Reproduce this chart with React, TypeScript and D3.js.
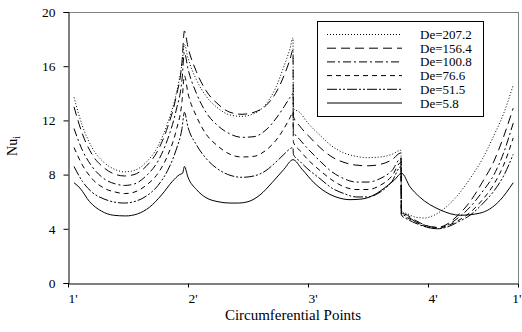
import { useEffect, useRef } from "react";
import * as d3 from "d3";

// circumferential position (1' = 0, 2' = 1, 3' = 2, 4' = 3, back to 1' = 3.75) vs Nu_i
const de2072: [number, number][] = [
  [0.05, 13.7], [0.12, 11.6], [0.2, 10.0], [0.3, 8.9], [0.4, 8.35], [0.47, 8.2], [0.55, 8.3],
  [0.65, 8.9], [0.75, 10.1], [0.83, 11.8], [0.9, 13.9], [0.95, 16.2], [0.97, 17.6],
  [1.0, 16.6], [1.07, 15.0], [1.15, 13.8], [1.25, 12.9], [1.35, 12.4], [1.45, 12.3], [1.55, 12.5],
  [1.65, 13.2], [1.73, 14.4], [1.8, 16.0], [1.85, 17.3], [1.875, 18.1],
  [1.878, 12.9], [1.93, 12.6], [2.0, 11.8], [2.1, 10.9], [2.2, 10.1], [2.3, 9.6], [2.4, 9.35],
  [2.5, 9.25], [2.6, 9.3], [2.7, 9.5], [2.775, 9.8],
  [2.778, 5.3], [2.83, 5.1], [2.9, 4.85], [2.97, 4.8], [3.05, 5.0], [3.15, 5.6], [3.25, 6.5],
  [3.35, 7.7], [3.45, 9.1], [3.55, 10.9], [3.63, 12.5], [3.71, 14.6],
];

const de1564: [number, number][] = [
  [0.05, 13.0], [0.12, 11.0], [0.2, 9.5], [0.3, 8.5], [0.4, 8.0], [0.47, 7.9], [0.55, 8.0],
  [0.65, 8.6], [0.75, 9.8], [0.83, 11.5], [0.9, 13.7], [0.95, 16.3], [0.97, 18.6],
  [1.0, 17.4], [1.07, 15.6], [1.15, 14.2], [1.25, 13.2], [1.35, 12.6], [1.45, 12.45], [1.55, 12.6],
  [1.65, 13.1], [1.73, 14.0], [1.8, 15.3], [1.85, 16.5], [1.875, 17.2],
  [1.878, 12.3], [1.93, 11.6], [2.0, 10.9], [2.1, 10.0], [2.2, 9.3], [2.3, 8.9], [2.4, 8.7],
  [2.5, 8.65], [2.6, 8.75], [2.7, 9.1], [2.775, 9.6],
  [2.778, 5.2], [2.83, 5.0], [2.9, 4.6], [3.0, 4.2], [3.08, 4.1], [3.15, 4.3], [3.25, 5.0],
  [3.35, 6.0], [3.45, 7.4], [3.55, 9.0], [3.63, 10.8], [3.71, 12.9],
];

const de1008: [number, number][] = [
  [0.05, 11.4], [0.12, 9.8], [0.2, 8.6], [0.3, 7.7], [0.4, 7.3], [0.47, 7.2], [0.55, 7.3],
  [0.65, 7.9], [0.75, 9.0], [0.83, 10.6], [0.9, 12.7], [0.95, 15.0], [0.97, 17.0],
  [1.0, 15.8], [1.07, 14.0], [1.15, 12.6], [1.25, 11.6], [1.35, 11.0], [1.45, 10.75], [1.55, 10.8],
  [1.65, 11.3], [1.73, 12.1], [1.8, 13.0], [1.85, 13.7], [1.875, 14.0],
  [1.878, 11.2], [1.93, 10.6], [2.0, 9.9], [2.1, 9.0], [2.2, 8.2], [2.3, 7.7], [2.4, 7.45],
  [2.5, 7.45], [2.6, 7.7], [2.7, 8.3], [2.775, 9.2],
  [2.778, 5.1], [2.83, 4.9], [2.9, 4.5], [3.0, 4.1], [3.08, 4.0], [3.15, 4.2], [3.25, 4.8],
  [3.35, 5.6], [3.45, 6.7], [3.55, 8.0], [3.63, 9.6], [3.71, 11.8],
];

const de766: [number, number][] = [
  [0.05, 10.0], [0.12, 8.7], [0.2, 7.7], [0.3, 7.0], [0.4, 6.7], [0.47, 6.6], [0.55, 6.7],
  [0.65, 7.2], [0.75, 8.1], [0.83, 9.4], [0.9, 11.2], [0.95, 13.4], [0.97, 15.3],
  [1.0, 14.0], [1.07, 12.3], [1.15, 11.0], [1.25, 10.1], [1.35, 9.5], [1.45, 9.3], [1.55, 9.35],
  [1.65, 9.8], [1.73, 10.5], [1.8, 11.4], [1.85, 12.2], [1.875, 12.6],
  [1.878, 10.4], [1.93, 9.8], [2.0, 9.1], [2.1, 8.3], [2.2, 7.6], [2.3, 7.1], [2.4, 6.9],
  [2.5, 6.9], [2.6, 7.2], [2.7, 7.9], [2.775, 8.9],
  [2.778, 5.0], [2.83, 4.8], [2.9, 4.5], [3.0, 4.2], [3.08, 4.1], [3.15, 4.2], [3.25, 4.6],
  [3.35, 5.2], [3.45, 6.1], [3.55, 7.3], [3.63, 8.7], [3.71, 10.7],
];

const de515: [number, number][] = [
  [0.05, 8.6], [0.12, 7.5], [0.2, 6.7], [0.3, 6.2], [0.4, 5.95], [0.47, 5.9], [0.55, 6.0],
  [0.65, 6.4], [0.75, 7.2], [0.83, 8.3], [0.9, 9.8], [0.95, 11.4], [0.97, 12.6],
  [1.0, 11.5], [1.07, 10.2], [1.15, 9.2], [1.25, 8.4], [1.35, 7.95], [1.45, 7.8], [1.55, 7.9],
  [1.65, 8.3], [1.73, 8.9], [1.8, 9.5], [1.85, 9.9], [1.875, 10.0],
  [1.878, 9.5], [1.93, 9.0], [2.0, 8.4], [2.1, 7.7], [2.2, 7.0], [2.3, 6.6], [2.4, 6.35],
  [2.5, 6.35], [2.6, 6.7], [2.7, 7.5], [2.775, 8.6],
  [2.778, 5.0], [2.83, 4.7], [2.9, 4.4], [3.0, 4.1], [3.08, 4.0], [3.15, 4.1], [3.25, 4.5],
  [3.35, 5.0], [3.45, 5.8], [3.55, 6.8], [3.63, 7.9], [3.71, 9.5],
];

const de58: [number, number][] = [
  [0.05, 7.4], [0.1, 7.0], [0.18, 6.0], [0.28, 5.3], [0.38, 5.0], [0.48, 4.95], [0.58, 5.1],
  [0.68, 5.6], [0.78, 6.5], [0.87, 7.5], [0.93, 8.0], [0.955, 8.1], [0.97, 8.6],
  [1.0, 7.8], [1.07, 6.9], [1.15, 6.3], [1.25, 6.0], [1.35, 5.9], [1.42, 5.9], [1.5, 6.0],
  [1.6, 6.5], [1.7, 7.4], [1.8, 8.4], [1.875, 9.1],
  [1.95, 8.4], [2.05, 7.4], [2.15, 6.7], [2.25, 6.3], [2.35, 6.15], [2.45, 6.2], [2.55, 6.5],
  [2.65, 7.1], [2.72, 7.6], [2.78, 8.1],
  [2.85, 7.1], [2.93, 6.35], [3.1, 5.4], [3.27, 5.0], [3.43, 5.15], [3.6, 6.1], [3.71, 7.4],
];

const seriesNames = ["De=207.2", "De=156.4", "De=100.8", "De=76.6", "De=51.5", "De=5.8"];
const seriesData = [de2072, de1564, de1008, de766, de515, de58];
const dashes = ["1,2", "9,5", "8,3,2,3", "5,4", "10,2,2,2,2,2", null];

const yTicks = [0, 4, 8, 12, 16, 20];
const xTickPos = [0, 1, 2, 3, 3.75];
const xTickLabels = ["1'", "2'", "3'", "4'", "1'"];

export default function App() {
  const ref = useRef<SVGSVGElement>(null);

  useEffect(() => {
    if (!ref.current) return;
    const svg = d3.select(ref.current);
    svg.selectAll("*").remove();

    const font = "'Liberation Serif', 'Times New Roman', serif";
    const left = 68;
    const right = 518;
    const top = 12;
    const bottom = 283;

    const x = d3.scaleLinear().domain([0, 3.75]).range([left, right]);
    const y = d3.scaleLinear().domain([0, 20]).range([bottom, top]);

    // frame (top/right lighter)
    svg.append("line")
      .attr("x1", left).attr("x2", right).attr("y1", top + 0.5).attr("y2", top + 0.5)
      .attr("stroke", "#808080");
    svg.append("line")
      .attr("x1", right + 0.5).attr("x2", right + 0.5).attr("y1", top).attr("y2", bottom)
      .attr("stroke", "#808080");

    // lines
    const line = d3
      .line<[number, number]>()
      .x((d) => x(d[0]))
      .y((d) => y(d[1]))
      .curve(d3.curveMonotoneX);

    seriesData.forEach((data, i) => {
      svg.append("path")
        .attr("d", line(data))
        .attr("fill", "none")
        .attr("stroke", "#000")
        .attr("stroke-width", 1)
        .attr("stroke-dasharray", dashes[i]);
    });

    // axes
    const yAxis = svg.append("g")
      .attr("transform", `translate(${left + 0.5},0)`)
      .call(d3.axisLeft(y).tickValues(yTicks).tickSize(5).tickPadding(8).tickFormat(d3.format("d")));
    yAxis.select(".domain").attr("stroke", "#000");
    yAxis.selectAll("text").style("font-family", font).style("font-size", "13.5px").attr("fill", "#000");

    const xAxis = svg.append("g")
      .attr("transform", `translate(0,${bottom + 0.5})`)
      .call(
        d3.axisBottom(x).tickValues(xTickPos).tickSize(4).tickSizeOuter(0)
          .tickFormat((_, i) => xTickLabels[i])
      );
    xAxis.selectAll("text")
      .style("font-family", font)
      .style("font-size", "13.5px")
      .attr("fill", "#000")
      .attr("y", 19)
      .attr("dy", null)
      .attr("text-anchor", (_, i) => (i === xTickPos.length - 1 ? "end" : "start"))
      .attr("dx", (_, i) => (i === xTickPos.length - 1 ? 3 : 0));

    svg.append("text")
      .attr("x", (left + right) / 2)
      .attr("y", 320)
      .attr("text-anchor", "middle")
      .style("font-family", font)
      .style("font-size", "15px")
      .text("Circumferential Points");

    const yTitle = svg.append("text")
      .attr("transform", "translate(17,146) rotate(-90)")
      .attr("text-anchor", "middle")
      .style("font-family", font)
      .style("font-size", "14px");
    yTitle.append("tspan").text("Nu");
    yTitle.append("tspan").attr("dy", 3).style("font-size", "10px").text("i");

    // legend
    const lg = svg.append("g");
    lg.append("rect")
      .attr("x", 317.5).attr("y", 21.5).attr("width", 166).attr("height", 95)
      .attr("fill", "#fff").attr("stroke", "#000");
    seriesNames.forEach((name, i) => {
      const ly = 34.5 + i * 13.7;
      lg.append("line")
        .attr("x1", 327).attr("x2", 402).attr("y1", ly).attr("y2", ly)
        .attr("stroke", "#000")
        .attr("stroke-dasharray", dashes[i]);
      lg.append("text")
        .attr("x", 420).attr("y", ly + 4.5)
        .style("font-family", font)
        .style("font-size", "13px")
        .text(name);
    });
  }, []);

  return (
    <svg
      ref={ref}
      width={522}
      height={332}
      style={{ position: "absolute", left: 0, top: 0, background: "#fff" }}
    />
  );
}
